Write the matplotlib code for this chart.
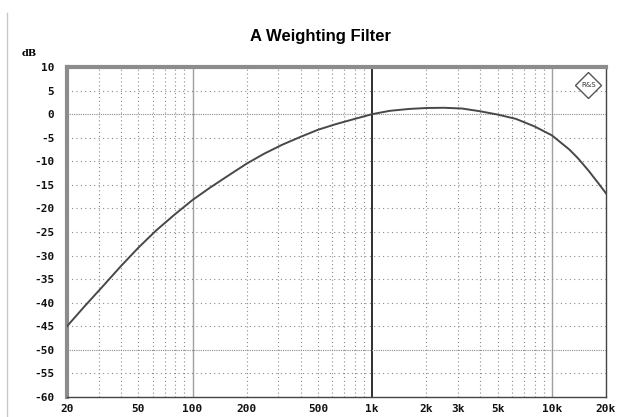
import numpy as np
import matplotlib
matplotlib.use("Agg")
import matplotlib.pyplot as plt
from matplotlib.lines import Line2D

# curve (Hz, dB)
freq_hz = [20, 25, 31.5, 40, 50, 63, 80, 100, 125, 160, 200, 250, 315, 400, 500,
           630, 800, 1000, 1250, 1600, 2000, 2500, 3150, 4000, 5000, 6300, 8000,
           10000, 12500, 14000, 16000, 18000, 20000]
gain_db = [-45.0, -40.8, -36.6, -32.2, -28.3, -24.6, -21.2, -18.2, -15.6, -12.9,
           -10.5, -8.4, -6.5, -4.8, -3.3, -2.1, -1.0, 0.0, 0.7, 1.1, 1.3, 1.35,
           1.2, 0.6, -0.1, -1.0, -2.6, -4.5, -7.5, -9.4, -12.0, -14.5, -16.8]

x_ticks = [20, 50, 100, 200, 500, 1000, 2000, 3000, 5000, 10000, 20000]
x_labels = ["20", "50", "100", "200", "500", "1k", "2k", "3k", "5k", "10k", "20k"]
y_ticks = list(range(10, -65, -5))
y_labels = ["{}".format(v) for v in y_ticks]

minor_x = [m * d for d in (10, 100, 1000) for m in range(2, 10)] + [20000]
major_x = [100, 10000]

fig = plt.figure(figsize=(6.28, 4.17), dpi=100)
ax = fig.add_axes([67 / 628, 1 - 397 / 417, 539 / 628, 330 / 417])

ax.set_xscale("log")
ax.set_xlim(20, 20000)
ax.set_ylim(-60, 10)

# grid
for f in minor_x:
    if f in major_x or f == 1000:
        continue
    ax.axvline(f, color="#8a8a8a", lw=0.8, ls=(0, (1, 2.5)), zorder=1)
for f in major_x:
    ax.axvline(f, color="#a0a0a0", lw=1.0, zorder=1)
ax.axvline(1000, color="#303030", lw=1.4, zorder=1)
for v in y_ticks:
    if v in (10, -60):
        continue
    if v in (0, -50):
        ax.axhline(v, color="#8a8a8a", lw=0.8, ls=(0, (1, 1)), zorder=1)
    else:
        ax.axhline(v, color="#8a8a8a", lw=0.8, ls=(0, (1, 3)), zorder=1)

ax.plot(freq_hz, gain_db, color="#484848", lw=1.4, zorder=3)

ax.set_xticks(x_ticks)
ax.set_xticklabels(x_labels)
ax.set_yticks(y_ticks)
ax.set_yticklabels(y_labels)
ax.minorticks_off()
ax.tick_params(length=0, labelsize=8)
ax.tick_params(axis="y", pad=9)
ax.tick_params(axis="x", pad=5)
for lab in ax.get_xticklabels() + ax.get_yticklabels():
    lab.set_family("DejaVu Sans Mono")
    lab.set_fontweight("bold")
    lab.set_color("#111111")

for side in ("left", "top"):
    ax.spines[side].set_color("#8c8c8c")
    ax.spines[side].set_linewidth(3)
for side in ("right", "bottom"):
    ax.spines[side].set_color("#444444")
    ax.spines[side].set_linewidth(1.0)
    ax.spines[side].set_linestyle((0, (1, 1)))

# R&S style logo in the top right corner
ax.plot([0.967], [0.945], marker="D", ms=13, mfc="white", mec="#555555",
        mew=1.0, transform=ax.transAxes, zorder=4)
ax.text(0.967, 0.945, "R&S", fontsize=5, ha="center", va="center",
        color="#333333", transform=ax.transAxes, zorder=5)

fig.text(320 / 628, 1 - 36 / 417, "A Weighting Filter", ha="center", va="center",
         fontsize=12, fontweight="bold", family="Liberation Sans")
fig.text(22 / 628, 1 - 54 / 417, "dB", ha="left", va="center", fontsize=7,
         fontweight="bold", family="DejaVu Serif")

fig.add_artist(Line2D([7 / 628, 7 / 628], [0, 0.97], transform=fig.transFigure,
                      color="#c8c8c8", lw=1))

fig.savefig("out.png", dpi=100)
